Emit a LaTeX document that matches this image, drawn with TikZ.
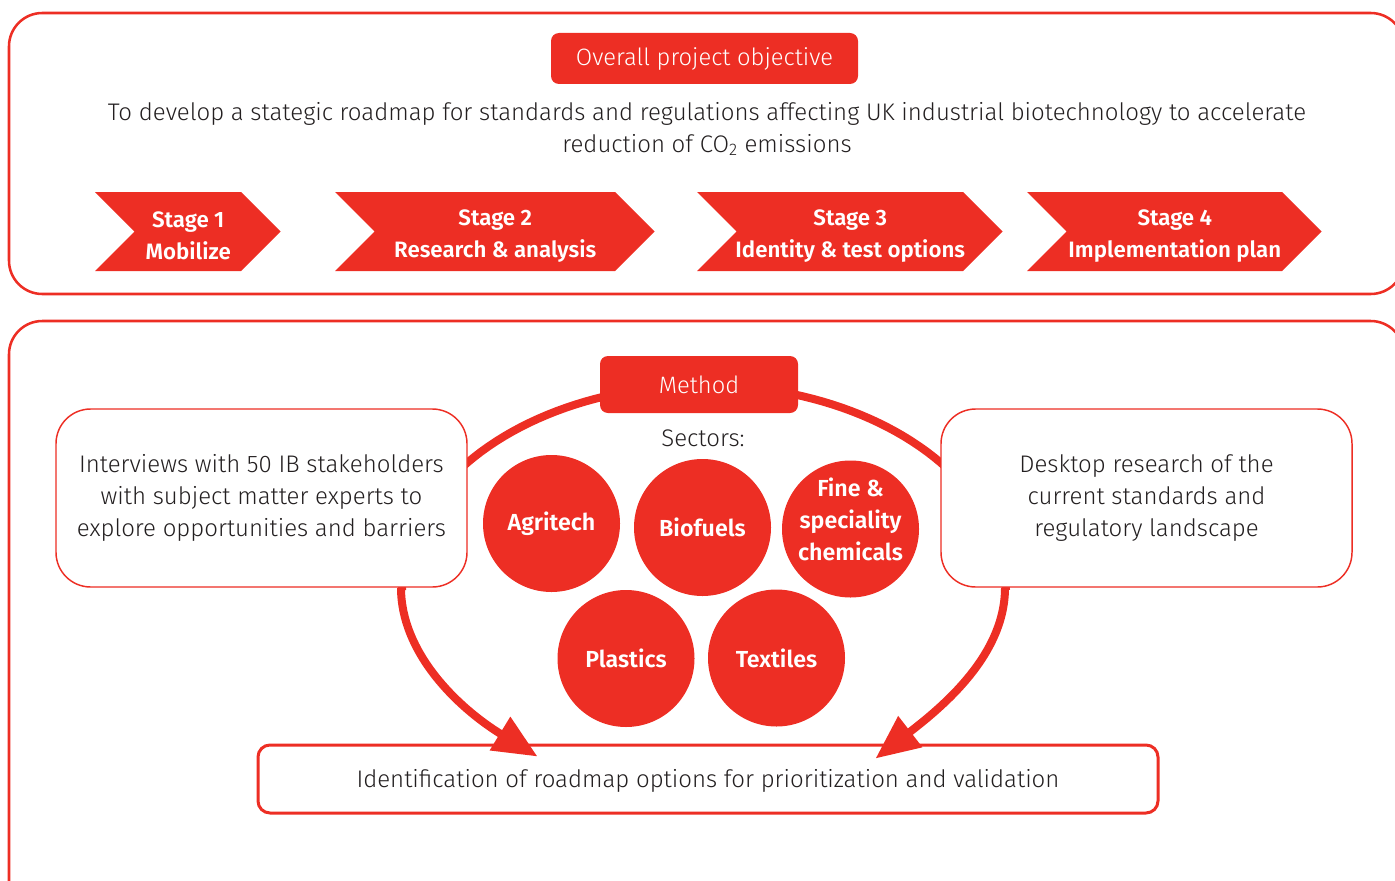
\documentclass[tikz,border=0pt]{standalone}
\usepackage{fontspec}
\setmainfont{Fira Sans}[UprightFont=* Light, BoldFont=* SemiBold]
\usetikzlibrary{arrows.meta,calc,backgrounds}
\definecolor{brandred}{RGB}{237,46,36}
\definecolor{ink}{RGB}{35,31,32}

\begin{document}
\begin{tikzpicture}[x=0.75pt,y=-0.75pt,
  panel/.style={draw=brandred, line width=1.9pt, rounded corners=25pt},
  headtag/.style={fill=brandred, rounded corners=6pt, text=white, inner sep=0pt,
    font=\fontsize{17.8}{21}\selectfont},
  bodytext/.style={text=ink, align=center, font=\fontsize{18}{24}\selectfont},
  chevron/.style={fill=brandred},
  stagetext/.style={text=white, align=center, font=\bfseries\fontsize{16.7}{24}\selectfont},
  infobox/.style={draw=brandred, line width=1.1pt, rounded corners=26pt, fill=white,
    minimum width=308.25pt, minimum height=133.5pt, inner sep=0pt,
    text=ink, align=center, font=\fontsize{18}{24}\selectfont},
  sector/.style={circle, fill=brandred, minimum size=102.75pt, inner sep=0pt,
    text=white, align=center, font=\bfseries\fontsize{17.4}{24}\selectfont},
  loopline/.style={draw=brandred, line width=6pt},
  flow/.style={loopline, -{Triangle[length=33pt,width=28pt]}},
]
\useasboundingbox (0,0) rectangle (1395,881);
\clip (0,0) rectangle (1395,881);

% ---------- upper panel: objective and stages ----------
\draw[panel] (9,13) rectangle (1404,294);
\node[headtag, minimum width=230.25pt, minimum height=38.25pt] (objective) at (704.5,58.5)
  {Overall project objective};
\node[bodytext] (goal) at (707,129)
  {To develop a stategic roadmap for standards and regulations affecting UK industrial biotechnology to accelerate\\
   reduction of CO\textsubscript{2} emissions};

\foreach \L/\R/\n/\first/\second in {
    95/241/1/Stage 1/Mobilize,
    335/615/2/Stage 2/Research \& analysis,
    697/963/3/Stage 3/Identity \& test options,
    1027/1282/4/Stage 4/Implementation plan} {
  \path[chevron] (\L,192) -- (\R,192) -- (\R+39.5,231.5) -- (\R,271) -- (\L,271)
    -- (\L+39.5,231.5) -- cycle;
  \node[stagetext] (stage\n) at ({(\L+40.5+\R)/2},236) {\first\\\second};
}

% ---------- lower panel: method ----------
\draw[panel] (9,321) rectangle (1404,960);

\node[headtag, minimum width=148.5pt, minimum height=42.75pt] (method) at (699,384.5) {Method};
\node[bodytext] (sectors) at (703,438) {Sectors:};

\node[sector] (agritech) at (551.5,523.5) {Agritech};
\node[sector] (biofuels) at (702.5,527.5) {Biofuels};
\node[sector] (chemicals) at (850.5,529) {};
\node[text=white, align=center, font=\bfseries\fontsize{17.4}{24}\selectfont]
  (chemicalsname) at (850.5,519) {Fine \&\\speciality\\chemicals};
\node[sector] (plastics) at (626,658.5) {Plastics};
\node[sector] (textiles) at (776.5,658) {Textiles};

\node[infobox] (interview) at (261.5,498)
  {Interviews with 50 IB stakeholders\\with subject matter experts to\\explore opportunities and barriers};
\node[infobox] (desktop) at (1146.5,498)
  {Desktop research of the\\current standards and\\regulatory landscape};

\node[draw=brandred, line width=2.25pt, rounded corners=9pt, fill=white,
  minimum width=675pt, minimum height=51pt, inner sep=0pt,
  text height=17pt, text depth=4.5pt,
  text=ink, font=\fontsize{18}{24}\selectfont] (result) at (708,779)
  {Identification of roadmap options for prioritization and validation};

% loop joining the two research streams, passing behind the method tag
\begin{scope}[on background layer]
  \draw[loopline] plot[domain=180:360, samples=90]
    ({704+302*cos(\x)},{590+205*sin(\x)});
\end{scope}

% both streams feed the roadmap options
\draw[flow] ($(interview.south)+(139.5,0)$) .. controls +(0,65) and +(-80,-49)
  .. ($(result.north west)+(281,13)$);
\draw[flow] ($(desktop.south)+(-141.5,0)$) .. controls +(0,68) and +(66,-51)
  .. ($(result.north east)+(-284,15)$);
\end{tikzpicture}
\end{document}
